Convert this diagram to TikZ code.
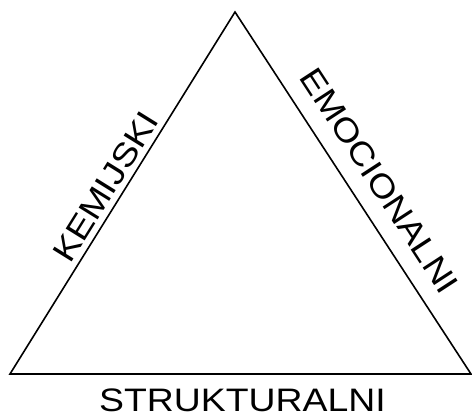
\documentclass[tikz,border=0pt]{standalone}
\usepackage{fontspec}
\setmainfont{Liberation Sans}
\tikzset{lbl/.style={font=\fontsize{32.5}{32.5}\selectfont, inner sep=0pt, anchor=base}}
\newcommand{\wide}[1]{\scalebox{1.15}[1]{#1}}
\begin{document}
\begin{tikzpicture}[x=1pt,y=1pt]
\useasboundingbox (0,0) rectangle (472,417);
\coordinate (top) at (235,405);
\coordinate (bl) at (10,43);
\coordinate (br) at (471,43);
\draw[line width=1.6pt, line join=miter] (top) -- (br) -- (bl) -- cycle;
\node[lbl, rotate=58.1] (kem) at (115,224.5) {\wide{KEMIJSKI}};
\node[lbl, rotate=-56.9] (emo) at (370,230) {\wide{EMOCIONALNI}};
\node[lbl] (str) at (242.5,5) {\wide{STRUKTURALNI}};
\end{tikzpicture}
\end{document}
